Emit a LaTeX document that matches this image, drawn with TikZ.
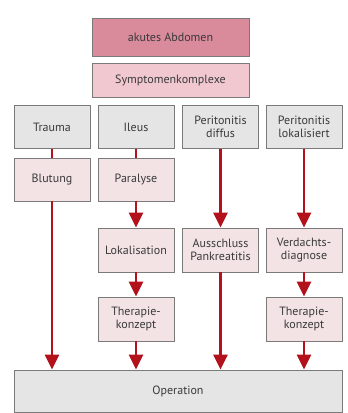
\documentclass[tikz,border=0pt]{standalone}
\usepackage{fontspec}
\setmainfont{PT Sans}
\usetikzlibrary{arrows.meta}
\definecolor{toppink}{HTML}{D98A9B}
\definecolor{sympink}{HTML}{F1C8D0}
\definecolor{boxgray}{HTML}{E4E5E4}
\definecolor{boxpink}{HTML}{F3E3E5}
\definecolor{bord}{HTML}{7A7A7A}
\definecolor{arr}{HTML}{B3121C}
\definecolor{txt}{HTML}{3A3A3A}
\tikzset{
  box/.style={draw=bord, line width=0.9pt, minimum width=76pt, minimum height=43pt,
    inner sep=1pt, align=center, text=txt, font=\fontsize{12}{13}\selectfont},
  graybox/.style={box, fill=boxgray},
  pinkbox/.style={box, fill=boxpink},
  link/.style={draw=arr, line width=2.5pt},
  arrow/.style={link, -{Triangle[length=15pt,width=14pt]}, shorten >=0pt},
}
\begin{document}
\begin{tikzpicture}[x=1pt,y=1pt]
\useasboundingbox[fill=white] (0,0) rectangle (348,-413);
\node[box, fill=toppink, minimum width=157pt, minimum height=38pt] (top) at (170.5,-37) {akutes Abdomen};
\node[box, fill=sympink, minimum width=157pt, minimum height=34pt] (sym) at (170.5,-80) {Symptomenkomplexe};
\node[graybox] (trauma) at (52,-127) {Trauma};
\node[graybox] (ileus) at (136,-127) {Ileus};
\node[graybox] (pdiff) at (220.5,-127) {Peritonitis\\diffus};
\node[graybox] (plok) at (304,-127) {Peritonitis\\lokalisiert};
\node[pinkbox] (blut) at (52,-179.5) {Blutung};
\node[pinkbox] (para) at (136,-179.5) {Paralyse};
\node[pinkbox, minimum height=44pt] (lok) at (136,-250) {Lokalisation};
\node[pinkbox, minimum height=44pt] (aus) at (220.5,-250) {Ausschluss\\Pankreatitis};
\node[pinkbox, minimum height=44pt] (verd) at (304,-250) {Verdachts-\\diagnose};
\node[pinkbox, minimum height=44pt] (ther1) at (136,-319) {Therapie-\\konzept};
\node[pinkbox, minimum height=44pt] (ther2) at (304,-319) {Therapie-\\konzept};
\node[graybox, minimum width=328pt, minimum height=42pt] (op) at (178,-391) {Operation};
\draw[link] (trauma.south) -- (blut.north);
\draw[link] (ileus.south) -- (para.north);
\draw[arrow] (blut.south) -- (blut.south |- op.north);
\draw[arrow] (para.south) -- (lok.north);
\draw[arrow] (lok.south) -- (ther1.north);
\draw[arrow] (ther1.south) -- (ther1.south |- op.north);
\draw[arrow] (pdiff.south) -- (aus.north);
\draw[arrow] (aus.south) -- (aus.south |- op.north);
\draw[arrow] (plok.south) -- (verd.north);
\draw[arrow] (verd.south) -- (ther2.north);
\draw[arrow] (ther2.south) -- (ther2.south |- op.north);
\end{tikzpicture}
\end{document}
